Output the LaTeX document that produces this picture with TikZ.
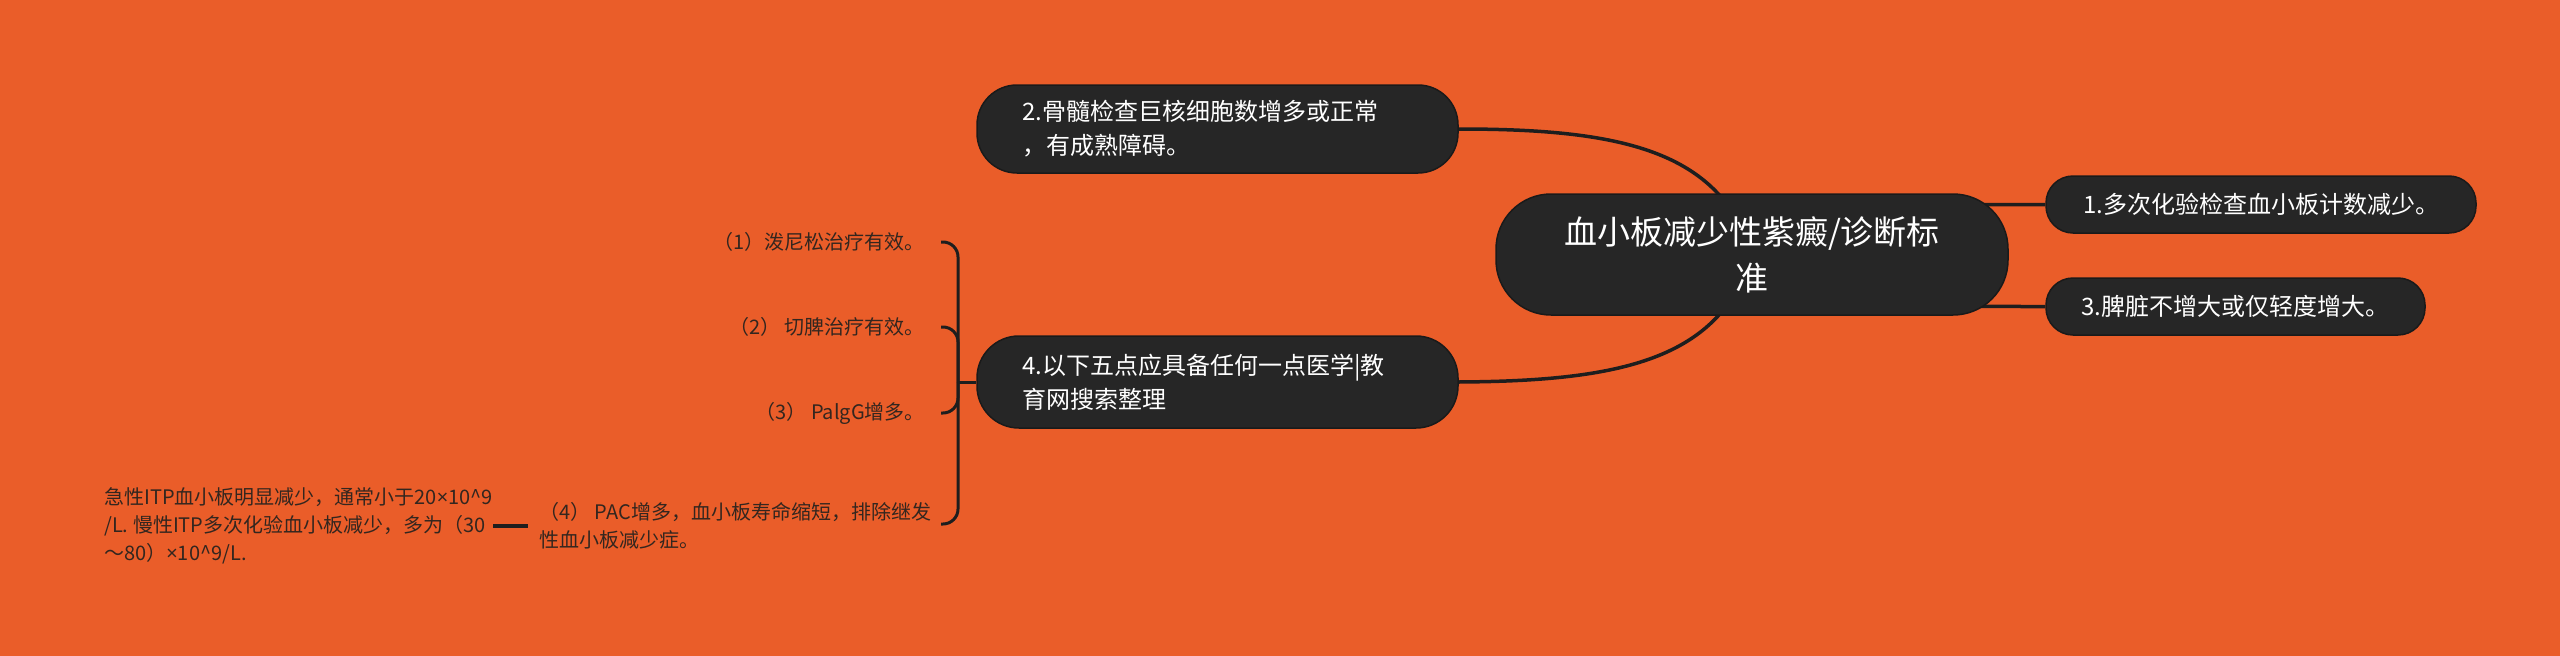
\documentclass[tikz,border=0pt]{standalone}
\usepackage{fontspec}
\setmainfont{Noto Sans CJK SC}
\newfontfamily\latinf{Noto Sans}
\usetikzlibrary{calc}
\definecolor{bgc}{HTML}{EA5D29}
\definecolor{nodefill}{HTML}{262626}
\definecolor{nodeedge}{HTML}{1A1A1A}
\definecolor{linec}{HTML}{1E1E1E}
\definecolor{leaftext}{HTML}{33261F}
\pgfdeclarelayer{background}
\pgfsetlayers{background,main}
\begin{document}
\begin{tikzpicture}[x=1pt,y=-1pt,
  darkbox/.style={fill=nodefill,draw=nodeedge,line width=1.5pt,text=white,inner sep=0pt},
  conn/.style={draw=linec,line width=3.5pt},
  brace/.style={draw=linec,line width=3pt,rounded corners=15pt},
  leaf/.style={text=leaftext,inner sep=0pt,font=\fontsize{20}{28}\selectfont}]
\useasboundingbox (0,0) rectangle (2560,656);
% nodes
\node[darkbox, minimum width=512pt, minimum height=121pt, rounded corners=55pt, align=center,
  font=\fontsize{33}{46}\selectfont] (root) at (1752,254.5) {血小板减少性紫癜/诊断标\\准};
\node[darkbox, minimum width=481pt, minimum height=88pt, rounded corners=40pt, text width=391pt,
  align=left, inner xsep=45pt, font=\fontsize{24}{34}\selectfont] (n2) at (1217.5,129)
  {2.骨髓检查巨核细胞数增多或正常\\，有成熟障碍。};
\node[darkbox, minimum width=481pt, minimum height=92pt, rounded corners=42pt, text width=391pt,
  align=left, inner xsep=45pt, font=\fontsize{24}{34}\selectfont] (n4) at (1217.5,382)
  {4.以下五点应具备任何一点医学|教\\育网搜索整理};
\node[darkbox, minimum width=430pt, minimum height=57pt, rounded corners=27pt,
  font=\fontsize{24}{34}\selectfont] (n1) at (2261,204.5) {1.多次化验检查血小板计数减少。};
\node[darkbox, minimum width=379pt, minimum height=57pt, rounded corners=27pt,
  font=\fontsize{24}{34}\selectfont] (n3) at (2235.5,306.5) {3.脾脏不增大或仅轻度增大。};
% leaves
\node[leaf, anchor=east] (l1) at (925,242) {（1）泼尼松治疗有效。};
\node[leaf, anchor=east] (l2) at (925,327) {（2） 切脾治疗有效。};
\node[leaf, anchor=east] (l3) at (925,413) {（3） PalgG增多。};
\node[leaf, anchor=west, align=left, inner xsep=11pt] (l4) at (528,526)
  {（4） PAC增多，血小板寿命缩短，排除继发\\性血小板减少症。};
\node[leaf, anchor=east, align=left] (fl) at (493,526)
  {急性ITP血小板明显减少，通常小于20{\latinf ×}10\textasciicircum 9\\/L. 慢性ITP多次化验血小板减少，多为（30\\～80）{\latinf ×}10\textasciicircum 9/L.};
% brace coordinates
\coordinate (J) at (958,382);
\coordinate (e1) at (941,242);
\coordinate (e2) at (941,327);
\coordinate (e3) at (941,413);
\coordinate (e4) at (941,524);
\begin{pgfonlayer}{background}
\fill[bgc] (0,0) rectangle (2560,656);
\draw[conn] (n2.east) .. controls (1620,129) and (1720,150) .. (root.center);
\draw[conn] (n4.east) .. controls (1620,381) and (1720,360) .. (root.center);
\draw[conn] (root.center) .. controls (1850,204.5) .. (n1.west);
\draw[conn] (root.center) .. controls (1850,306.5) .. (n3.west);
\end{pgfonlayer}
\draw[conn, line width=3pt] (J) -- (n4.west);
\draw[brace] (J) |- (e1);
\draw[brace] (J) |- (e2);
\draw[brace] (J) |- (e3);
\draw[brace] (J) |- (e4);
\draw[conn, line width=4pt] (fl.east) -- (l4.west);
\end{tikzpicture}
\end{document}
